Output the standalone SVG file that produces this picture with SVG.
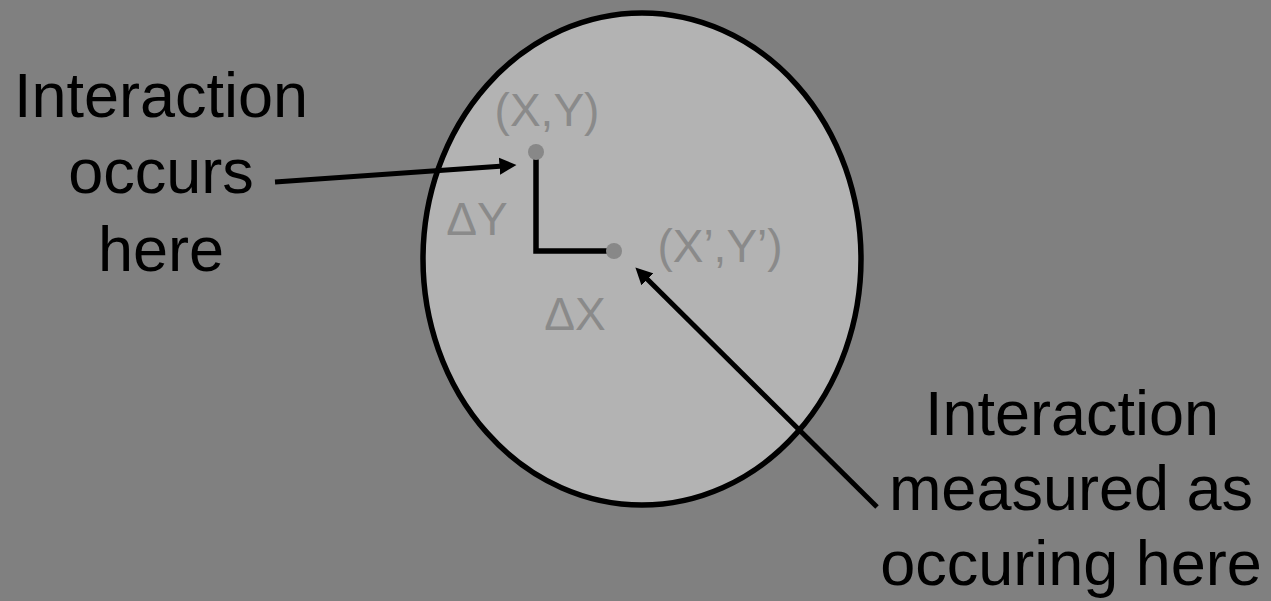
<svg xmlns="http://www.w3.org/2000/svg" width="1271" height="601" viewBox="0 0 1271 601">
  <style>
    .big { font-family: "Liberation Sans", Arial, sans-serif; font-size: 63px; fill: #000; text-anchor: middle; }
    .small { font-family: "Liberation Sans", Arial, sans-serif; font-size: 46px; fill: #8a8a8a; }
    .conn { stroke: #000; stroke-width: 5; fill: none; }
    .dot { fill: #888888; }
  </style>
  <defs>
    <marker id="arrow" markerUnits="userSpaceOnUse" markerWidth="18" markerHeight="18" refX="0.5" refY="8.5" orient="auto" viewBox="0 0 18 17">
      <path d="M0,0 L17,8.5 L0,17 z" fill="#000"/>
    </marker>
  </defs>
  <rect x="0" y="0" width="1271" height="601" fill="#808080"/>

  <g id="region">
    <ellipse cx="642" cy="259" rx="219" ry="246" fill="#b3b3b3" stroke="#000" stroke-width="5.5"/>
  </g>

  <g id="offset">
    <polyline points="536,152 536,251 614,251" stroke="#000" stroke-width="5.5" fill="none" stroke-linejoin="miter"/>
  </g>

  <g id="point-xy">
    <circle class="dot" cx="536" cy="152" r="8"/>
    <text class="small" x="547" y="126" text-anchor="middle">(X,Y)</text>
  </g>

  <g id="point-xy-prime">
    <circle class="dot" cx="614" cy="251" r="8"/>
    <text class="small" x="720" y="262" text-anchor="middle">(X’,Y’)</text>
  </g>

  <g id="delta-y">
    <text class="small" x="477" y="235" text-anchor="middle">ΔY</text>
  </g>

  <g id="delta-x">
    <text class="small" x="575" y="330" text-anchor="middle">ΔX</text>
  </g>

  <g id="label-occurs">
    <text class="big" x="161" y="117">Interaction</text>
    <text class="big" x="161" y="193">occurs</text>
    <text class="big" x="161" y="271">here</text>
  </g>

  <g id="label-measured">
    <text class="big" x="1072" y="435">Interaction</text>
    <text class="big" x="1071" y="510">measured as</text>
    <text class="big" x="1071" y="585">occuring here</text>
  </g>

  <g id="connectors">
    <line class="conn" x1="275" y1="182" x2="500" y2="166.2" marker-end="url(#arrow)"/>
    <line class="conn" x1="877" y1="507" x2="647.1" y2="279" marker-end="url(#arrow)"/>
  </g>
</svg>
